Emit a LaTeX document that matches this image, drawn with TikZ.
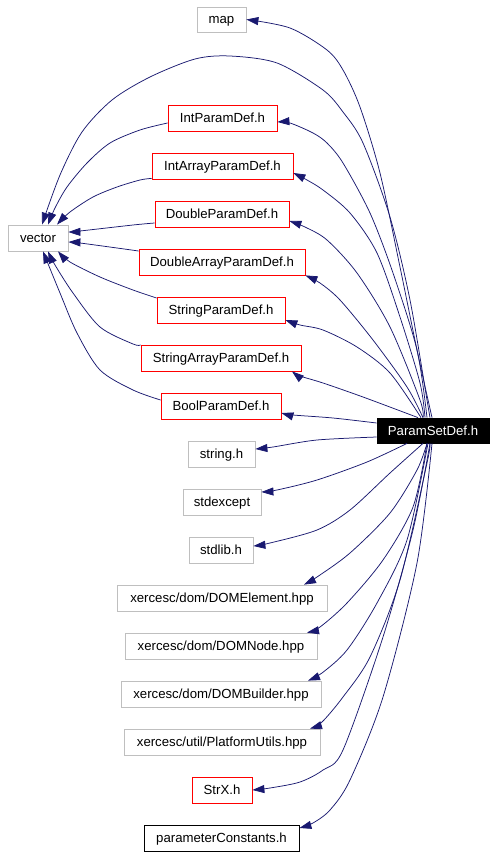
\documentclass[tikz,border=0pt]{standalone}
\usepackage{fontspec}
\setmainfont{Liberation Sans}
\usetikzlibrary{arrows.meta,calc}
\definecolor{edgec}{RGB}{25,25,112}
\definecolor{grayb}{RGB}{191,191,191}
\begin{document}
\begin{tikzpicture}[x=1pt,y=-1pt,
  box/.style={draw,line width=0.8pt,inner sep=0pt,minimum height=26pt,text height=11pt,text depth=2pt,font=\fontsize{13.2}{15}\selectfont},
  gbox/.style={box,draw=grayb},
  rbox/.style={box,draw=red},
  kbox/.style={box,draw=black},
  dep/.style={draw=edgec,line width=0.75pt,-{Triangle[length=12pt,width=8pt]}}]
\useasboundingbox (0,0) rectangle (496,856);
% nodes
\node[gbox,minimum width=49pt,minimum height=25pt] (map) at (221.5,19.5) {map};
\node[rbox,minimum width=109pt] (int) at (222.5,118) {IntParamDef.h};
\node[rbox,minimum width=141pt] (intarr) at (222.5,166) {IntArrayParamDef.h};
\node[rbox,minimum width=134pt] (dbl) at (222,214) {DoubleParamDef.h};
\node[rbox,minimum width=166pt] (dblarr) at (222,262) {DoubleArrayParamDef.h};
\node[gbox,minimum width=60pt] (vec) at (38,238) {vector};
\node[rbox,minimum width=128pt] (str) at (221,310) {StringParamDef.h};
\node[rbox,minimum width=160pt] (strarr) at (221,358) {StringArrayParamDef.h};
\node[rbox,minimum width=120pt] (bool) at (221,406) {BoolParamDef.h};
\node[box,draw=black,fill=black,text=white,minimum width=112pt,minimum height=25pt] (psd) at (433,430.5) {ParamSetDef.h};
\node[gbox,minimum width=67pt] (strh) at (221.5,454) {string.h};
\node[gbox,minimum width=78pt] (stdexc) at (222,502) {stdexcept};
\node[gbox,minimum width=64pt] (stdlib) at (221,550) {stdlib.h};
\node[gbox,minimum width=210pt] (domel) at (222,598) {xercesc/dom/DOMElement.hpp};
\node[gbox,minimum width=192pt] (domnode) at (221,646) {xercesc/dom/DOMNode.hpp};
\node[gbox,minimum width=200pt] (dombuild) at (221,694) {xercesc/dom/DOMBuilder.hpp};
\node[gbox,minimum width=196pt] (plat) at (222,742) {xercesc/util/PlatformUtils.hpp};
\node[rbox,minimum width=60pt] (strx) at (222,790) {StrX.h};
\node[kbox,minimum width=155pt] (pc) at (221.5,838) {parameterConstants.h};
% edges from ParamSetDef.h (upper)
\draw[dep] plot[smooth] coordinates {($(psd.north)+(-1,0)$) (417,350) (400,267) (380,173) (360,107) (343,70) (327,50) (290,28) (map.east)};
\draw[dep] plot[smooth] coordinates {($(psd.north)+(-3,0)$) (427,400) (410,300) (390,217) (363,143) (343,112) (323,90) (277,63) (230,56) (195,59) (150,77) (112,100) (82,132) (60,175) ($(vec.north)+(4,0)$)};
\draw[dep] plot[smooth] coordinates {($(psd.north)+(-6,0)$) (417,350) (393,273) (370,213) (343,163) (327,143) (313,133) (290,123) ($(int.east)+(0,4)$)};
\draw[dep] plot[smooth] coordinates {($(psd.north)+(-8,0)$) (420,383) (400,317) (377,253) (350,213) (323,190) (307,180) ($(intarr.east)+(0,7)$)};
\draw[dep] plot[smooth] coordinates {($(psd.north)+(-10,0)$) (420,400) (390,327) (357,273) (327,240) (305,227) ($(dbl.east)+(0,7)$)};
\draw[dep] plot[smooth] coordinates {($(psd.north)+(-10,0)$) (407,387) (373,340) (340,300) (320,283) (dblarr.south east)};
\draw[dep] plot[smooth] coordinates {($(psd.north)+(-12,0)$) (390,373) (357,347) (323,330) (300,325) ($(str.east)+(0,10)$)};
\draw[dep] plot[smooth] coordinates {($(psd.north)+(-15,0)$) (363,397) (323,383) (300,376) ($(strarr.south)+(71,0)$)};
\draw[dep] plot[smooth] coordinates {($(psd.west)+(0,-7.5)$) (333,418) (293,415) ($(bool.east)+(0,7)$)};
% edges from ParamSetDef.h (lower)
\draw[dep] plot[smooth] coordinates {($(psd.west)+(0,6.5)$) (317,440) (273,447) ($(strh.east)+(0,-5)$)};
\draw[dep] plot[smooth] coordinates {($(psd.south)+(-26,0)$) (367,462) (317,480) (277,490) ($(stdexc.east)+(0,-10)$)};
\draw[dep] plot[smooth] coordinates {($(psd.south)+(-10,0)$) (390,473) (350,510) (317,530) (270,543) ($(stdlib.east)+(0,-4)$)};
\draw[dep] plot[smooth] coordinates {($(psd.south)+(-6,0)$) (417,470) (390,513) (350,553) (317,577) ($(domel.north)+(82,0)$)};
\draw[dep] plot[smooth] coordinates {($(psd.south)+(-6,0)$) (413,507) (383,560) (347,603) (320,627) ($(domnode.north)+(86,0)$)};
\draw[dep] plot[smooth] coordinates {($(psd.south)+(-5,0)$) (407,540) (377,603) (347,650) (322,673) ($(dombuild.north)+(87,0)$)};
\draw[dep] plot[smooth] coordinates {($(psd.south)+(-3,0)$) (427,463) (400,580) (370,657) (343,697) (322,722) ($(plat.north)+(88,0)$)};
\draw[dep] plot[smooth] coordinates {($(psd.south)+(-3,0)$) (413,530) (383,637) (343,750) (323,770) (300,782) (270,788) (strx.east)};
\draw[dep] plot[smooth] coordinates {($(psd.south)+(-1,0)$) (417,563) (383,697) (350,780) (330,810) (313,823) ($(pc.east)+(0,-10)$)};
% edges into vector
\draw[dep] plot[smooth] coordinates {($(int.west)+(0,5)$) (140,130) (110,143) (87,163) (67,187) (55,208) ($(vec.north)+(10,0)$)};
\draw[dep] plot[smooth] coordinates {($(intarr.south west)+(0,-1)$) (140,180) (117,187) (93,197) (70,212) ($(vec.north)+(19,0)$)};
\draw[dep] plot[smooth] coordinates {($(dbl.west)+(0,9)$) (133,225) (80,231) ($(vec.east)+(0,-6)$)};
\draw[dep] plot[smooth] coordinates {($(dblarr.west)+(0,-11)$) (117,248) (80,243) ($(vec.east)+(0,4)$)};
\draw[dep] plot[smooth] coordinates {($(str.west)+(0,-12)$) (133,290) (100,277) (70,262) ($(vec.south)+(20,0)$)};
\draw[dep] plot[smooth] coordinates {($(strarr.west)+(0,-13)$) (133,344) (100,327) (73,293) (55,265) ($(vec.south)+(10,0)$)};
\draw[dep] plot[smooth] coordinates {($(bool.west)+(0,-6)$) (133,390) (100,370) (77,333) (60,293) ($(vec.south)+(5,0)$)};
\end{tikzpicture}
\end{document}
